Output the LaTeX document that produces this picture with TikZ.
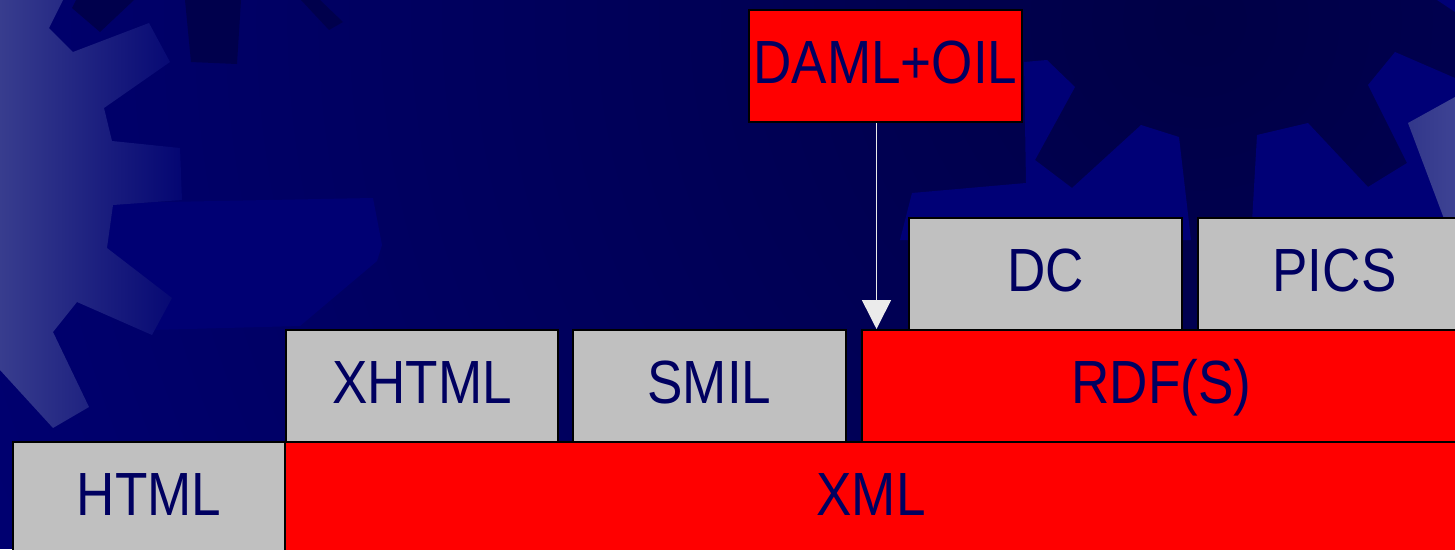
\documentclass[tikz,border=0pt]{standalone}
\usepackage{fontspec}
\setmainfont{Liberation Sans}[FakeStretch=0.87]
\usetikzlibrary{arrows.meta}

\definecolor{navy}{RGB}{0,0,112}
\definecolor{bgdark}{RGB}{0,0,70}
\definecolor{toothlight}{RGB}{0,0,118}
\definecolor{toothdark}{RGB}{0,0,76}
\definecolor{midlight}{RGB}{0,0,115}
\definecolor{gearL}{RGB}{56,61,142}
\definecolor{gearR}{RGB}{4,6,114}
\definecolor{lightA}{RGB}{50,55,138}
\definecolor{lightB}{RGB}{62,67,148}
\definecolor{ink}{RGB}{0,0,96}
\definecolor{boxgray}{RGB}{192,192,192}
\definecolor{boxred}{RGB}{255,0,0}
\definecolor{arrowc}{RGB}{235,235,235}

\begin{document}
\begin{tikzpicture}[x=1pt,y=-1pt,
  box/.style={draw=black, line width=2pt, minimum width=273pt,
    minimum height=112pt, inner sep=0pt, text height=44pt, text depth=10pt,
    font=\fontsize{61}{61}\selectfont, text=ink, anchor=north west},
  graybox/.style={box, fill=boxgray},
  redbox/.style={box, fill=boxred},
  link/.style={draw=arrowc, line width=1.5pt,
    -{Triangle[width=29pt,length=29pt,fill=arrowc]}},
]
\useasboundingbox (0,0) rectangle (1455,549);

% background with gear silhouettes
\begin{scope}
  \clip (0,0) rectangle (1455,549);
  \fill[navy] (0,0) rectangle (1455,549);
  \shade[inner color=bgdark, outer color=navy] (1200,20) circle (1300);

  % tooth of the middle gear
  \fill[midlight] (113,203) -- (373,198) -- (382,245) -- (377,261)
    -- (300,326) -- (150,330) -- (107,248) -- cycle;

  % dark teeth along the top edge
  \fill[toothdark] (76,0) -- (72,8) -- (100,32) -- (134,0) -- cycle;
  \fill[toothdark] (185,0) -- (191,62) -- (237,64) -- (241,0) -- cycle;
  \fill[toothdark] (301,0) -- (329,30) -- (343,22) -- (320,0) -- cycle;

  % pale gear on the left edge
  \shade[left color=gearL, right color=gearR]
    (0,0) -- (63,0) -- (49,28) -- (73,52) -- (149,23) -- (170,62)
    -- (104,108) -- (112,141) -- (180,148) -- (182,200) -- (113,205)
    -- (107,248) -- (172,298) -- (152,335) -- (77,302) -- (53,332)
    -- (89,407) -- (53,428) -- (0,370) -- cycle;

  % lighter gaps between the teeth of the right gear
  \fill[toothlight] (1024,62) -- (1047,60) -- (1075,87) -- (1035,160)
    -- (1072,188) -- (1141,125) -- (1179,137) -- (1191,240)
    -- (900,240) -- (912,193) -- (1026,183) -- cycle;
  \fill[toothlight] (1251,240) -- (1257,135) -- (1308,123) -- (1368,187)
    -- (1407,163) -- (1368,85) -- (1395,52) -- (1455,78) -- (1455,240)
    -- cycle;
  \fill[toothlight] (1437,0) -- (1455,12) -- (1455,0) -- cycle;

  % pale gear on the right edge
  \shade[left color=lightA, right color=lightB]
    (1408,123) -- (1455,97) -- (1455,240) -- (1452,240) -- cycle;
\end{scope}

% the stack of languages
\node[redbox] (daml) at (748,9) {DAML+OIL};
\node[graybox] (dc) at (908,217) {DC};
\node[graybox] (pics) at (1197,217) {PICS};
\node[graybox, minimum width=272pt] (xhtml) at (285,329) {XHTML};
\node[graybox] (smil) at (572,329) {SMIL};
\node[redbox, minimum width=599pt] (rdfs) at (861,329) {RDF(S)};
\node[graybox, minimum width=272pt] (html) at (12,441) {HTML};
\node[redbox, minimum width=1172pt] (xml) at (284,441) {XML};

% DAML+OIL builds on RDF(S)
\coordinate (tip) at (876.5,329);
\draw[link] (daml.south -| tip) -- (tip);
\end{tikzpicture}
\end{document}
